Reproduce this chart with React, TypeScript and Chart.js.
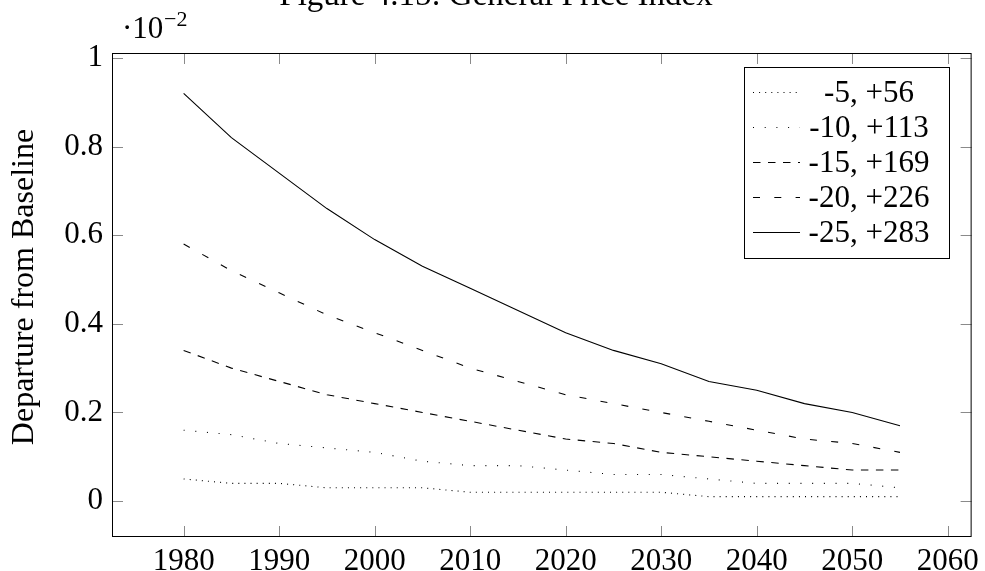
import React, { useEffect, useRef } from "react";
import { Chart, registerables } from "chart.js";

Chart.register(...registerables);

const years = [1980, 1985, 1990, 1995, 2000, 2005, 2010, 2015, 2020, 2025, 2030, 2035, 2040, 2045, 2050, 2055];
const series5 = [0.05, 0.04, 0.04, 0.03, 0.03, 0.03, 0.02, 0.02, 0.02, 0.02, 0.02, 0.01, 0.01, 0.01, 0.01, 0.01];
const series10 = [0.16, 0.15, 0.13, 0.12, 0.11, 0.09, 0.08, 0.08, 0.07, 0.06, 0.06, 0.05, 0.04, 0.04, 0.04, 0.03];
const series15 = [0.34, 0.3, 0.27, 0.24, 0.22, 0.2, 0.18, 0.16, 0.14, 0.13, 0.11, 0.1, 0.09, 0.08, 0.07, 0.07];
const series20 = [0.58, 0.52, 0.47, 0.42, 0.38, 0.34, 0.3, 0.27, 0.24, 0.22, 0.2, 0.18, 0.16, 0.14, 0.13, 0.11];
const series25 = [0.92, 0.82, 0.74, 0.66, 0.59, 0.53, 0.48, 0.43, 0.38, 0.34, 0.31, 0.27, 0.25, 0.22, 0.2, 0.17];

const seriesLabels = ["-5, +56", "-10, +113", "-15, +169", "-20, +226", "-25, +283"];
const xTicks = [1980, 1990, 2000, 2010, 2020, 2030, 2040, 2050, 2060];
const yTicks = [0, 0.2, 0.4, 0.6, 0.8, 1];
const yTickLabels = ["0", "0.2", "0.4", "0.6", "0.8", "1"];
const titleText = "Figure 4.15: General Price Index";
const yAxisTitle = "Departure from Baseline";

const FONT = "'Liberation Serif', 'DejaVu Serif', serif";
const dashes = [[1, 5.1], [1, 10.7], [7.5, 7.5], [7, 14.3], []];

const decorPlugin = {
  id: "decor",
  afterDatasetsDraw(chart: any) {
    const { ctx, chartArea: a, scales } = chart;
    ctx.save();
    // inner tick marks
    ctx.strokeStyle = "#8a8a8a";
    ctx.lineWidth = 1;
    ctx.setLineDash([]);
    ctx.beginPath();
    for (const v of xTicks) {
      const x = Math.round(scales.x.getPixelForValue(v)) + 0.5;
      ctx.moveTo(x, a.bottom);
      ctx.lineTo(x, a.bottom - 11);
      ctx.moveTo(x, a.top);
      ctx.lineTo(x, a.top + 11);
    }
    for (const v of yTicks) {
      const y = Math.round(scales.y.getPixelForValue(v)) + 0.5;
      ctx.moveTo(a.left, y);
      ctx.lineTo(a.left + 11, y);
      ctx.moveTo(a.right, y);
      ctx.lineTo(a.right - 11, y);
    }
    ctx.stroke();
    // frame
    ctx.strokeStyle = "#000";
    ctx.strokeRect(a.left + 0.5, a.top + 0.5, a.right - a.left - 1, a.bottom - a.top - 1);

    // legend
    const lx = 744.5, ly = 67.5, lw = 205, lh = 191;
    ctx.fillStyle = "#fff";
    ctx.fillRect(lx, ly, lw, lh);
    ctx.strokeStyle = "#000";
    ctx.strokeRect(lx, ly, lw, lh);
    ctx.font = `31px ${FONT}`;
    ctx.fillStyle = "#000";
    ctx.textAlign = "center";
    ctx.textBaseline = "middle";
    chart.data.datasets.forEach((ds: any, i: number) => {
      const cy = Math.round(92 + 35 * i) + 0.5;
      ctx.beginPath();
      ctx.setLineDash(ds.borderDash || []);
      ctx.lineWidth = ds.borderWidth;
      ctx.moveTo(753, cy);
      ctx.lineTo(800, cy);
      ctx.stroke();
      ctx.setLineDash([]);
      ctx.fillText(ds.label, 869, cy + 1);
    });

    // y axis title
    ctx.save();
    ctx.translate(33, 287);
    ctx.rotate(-Math.PI / 2);
    ctx.textAlign = "center";
    ctx.textBaseline = "alphabetic";
    ctx.font = `32px ${FONT}`;
    ctx.fillText(yAxisTitle, 0, 0);
    ctx.restore();

    // title and multiplier
    ctx.textAlign = "center";
    ctx.textBaseline = "alphabetic";
    ctx.font = `33px ${FONT}`;
    ctx.fillText(titleText, 496, 5);
    ctx.textAlign = "left";
    ctx.font = `31px ${FONT}`;
    ctx.fillText("\u00b710", 122, 38);
    ctx.font = `22px ${FONT}`;
    ctx.fillText("\u22122", 164, 26);
    ctx.restore();
  },
};

export default function App() {
  const ref = useRef<HTMLCanvasElement | null>(null);
  useEffect(() => {
    if (!ref.current) return;
    const all = [series5, series10, series15, series20, series25];
    const chart = new Chart(ref.current, {
      type: "line",
      data: {
        datasets: all.map((s, i) => ({
          label: seriesLabels[i],
          data: years.map((yr, j) => ({ x: yr, y: s[j] })),
          borderColor: "#000",
          backgroundColor: "#000",
          borderWidth: 1.1,
          borderDash: dashes[i],
          pointRadius: 0,
          tension: 0,
          fill: false,
        })),
      },
      options: {
        animation: false,
        responsive: false,
        layout: { padding: { left: 0, right: 9, top: 53, bottom: 0 } },
        plugins: {
          legend: { display: false },
          tooltip: { enabled: false },
          title: { display: false },
        },
        scales: {
          x: {
            type: "linear",
            min: 1972.5,
            max: 2062.5,
            grid: { display: false, drawTicks: false },
            border: { display: false },
            afterBuildTicks: (s: any) => {
              s.ticks = xTicks.map((v) => ({ value: v }));
            },
            afterFit: (s: any) => {
              s.height = 34;
            },
            ticks: {
              color: "#000",
              font: { family: FONT, size: 31 },
              padding: 6,
              maxRotation: 0,
              autoSkip: false,
              callback: (v: any) => String(v),
            },
          },
          y: {
            type: "linear",
            min: -0.081,
            max: 1.011,
            grid: { display: false, drawTicks: false },
            border: { display: false },
            afterBuildTicks: (s: any) => {
              s.ticks = yTicks.map((v) => ({ value: v }));
            },
            afterFit: (s: any) => {
              s.width = 112;
            },
            ticks: {
              color: "#000",
              font: { family: FONT, size: 31 },
              padding: 9,
              autoSkip: false,
              callback: (v: any) => {
                const k = yTicks.findIndex((t) => Math.abs(t - v) < 1e-9);
                return k >= 0 ? yTickLabels[k] : "";
              },
            },
          },
        },
      },
      plugins: [decorPlugin],
    } as any);
    return () => chart.destroy();
  }, []);
  return (
    <div style={{ position: "fixed", left: 0, top: 0, width: 985, height: 571, background: "#fff" }}>
      <canvas ref={ref} width={985} height={571} style={{ display: "block" }} />
    </div>
  );
}
